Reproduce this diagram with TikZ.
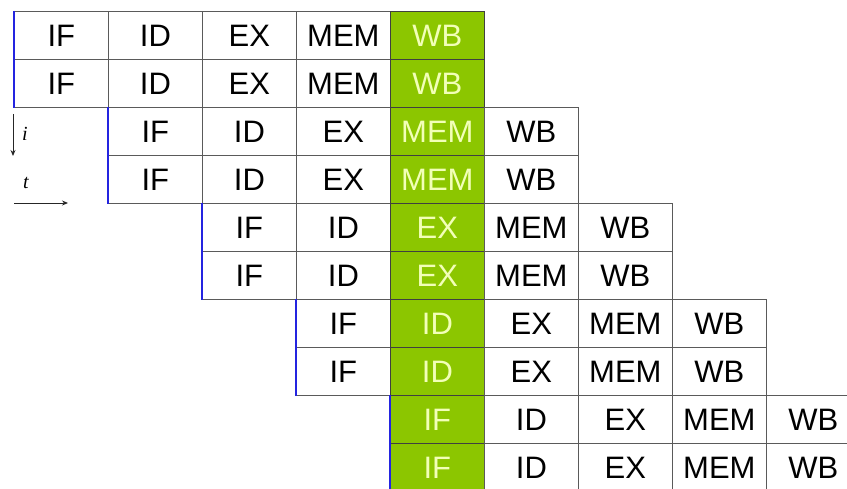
\documentclass[tikz,border=0pt]{standalone}
\usepackage{fontspec}
\setmainfont{Liberation Sans}
\newfontfamily\serifit{Liberation Serif}
\usetikzlibrary{arrows.meta}
\definecolor{stagegreen}{HTML}{8CC600}
\definecolor{stagetext}{HTML}{F2FFB8}
\definecolor{gridgray}{HTML}{5A5A5A}
\definecolor{startblue}{HTML}{2424E0}
\tikzset{
  cellbox/.style={rectangle, draw=gridgray, line width=0.8pt, minimum width=94pt, minimum height=48pt,
    inner sep=0pt, anchor=north west, font=\fontsize{31}{33}\selectfont, text=black},
  wcell/.style={cellbox, fill=white},
  gcell/.style={cellbox, fill=stagegreen, draw=black!75, text=stagetext},
  startline/.style={draw=startblue, line width=2pt},
  axisarrow/.style={-{Stealth[length=6pt,width=5pt]}, line width=0.9pt, draw=black!85},
  axislabel/.style={font=\serifit\itshape\fontsize{20}{22}\selectfont, inner sep=0pt}
}
\begin{document}
\begin{tikzpicture}[x=1pt,y=-1pt]
\useasboundingbox (0,0) rectangle (847,489);
\clip (0,0) rectangle (847,489);
\foreach \r in {0,...,9}{
  \pgfmathtruncatemacro\p{floor(\r/2)}
  \foreach \s/\lab in {0/IF,1/ID,2/EX,3/MEM,4/WB}{
    \pgfmathtruncatemacro\c{\p+\s}
    \ifnum\c=4 \def\sty{gcell}\else\def\sty{wcell}\fi
    \node[\sty] (c-\r-\c) at ({14+94*\c},{11+48*\r}) {\lab};
  }
}
\foreach \p in {0,...,4}{
  \pgfmathtruncatemacro\ra{2*\p}
  \pgfmathtruncatemacro\rb{2*\p+1}
  \draw[startline] (c-\ra-\p.north west) -- (c-\rb-\p.south west);
}
\coordinate (itop) at (13,114);
\coordinate (ibot) at (13,156);
\coordinate (tleft) at (14,203);
\coordinate (tright) at (68,203);
\draw[axisarrow] (itop) -- (ibot);
\draw[axisarrow] (tleft) -- (tright);
\node[axislabel] (ilab) at (25,134) {i};
\node[axislabel] (tlab) at (26,183) {t};
\end{tikzpicture}
\end{document}
